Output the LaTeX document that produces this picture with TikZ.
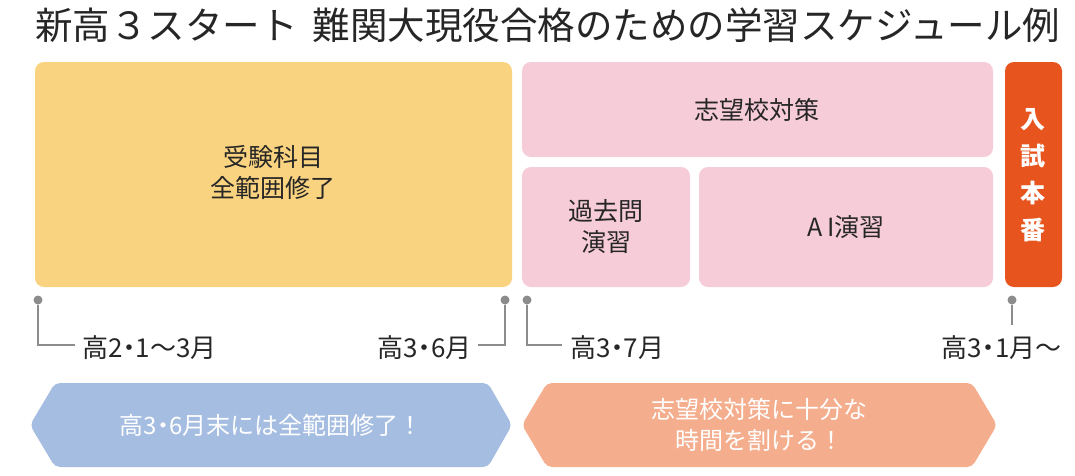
\documentclass[tikz,border=0pt]{standalone}
\usepackage{fontspec}
\setmainfont{Noto Sans CJK JP}
\begin{document}
\begin{tikzpicture}[x=1pt,y=-1pt,
  box/.style={rounded corners=9pt},
  lbl/.style={font=\fontsize{25}{31}\selectfont,text=black!85,align=center},
  tl/.style={draw=black!45,line width=1.2pt},
  dot/.style={circle,fill=black!45,inner sep=0pt,minimum size=9pt},
  tm/.style={font=\fontsize{26}{28}\selectfont,text=black!85,inner sep=0pt},
  hex/.style={rounded corners=5pt}]
\useasboundingbox (0,0) rectangle (1075,475);
\definecolor{yel}{HTML}{F9D380}
\definecolor{pnk}{HTML}{F6CCD9}
\definecolor{org}{HTML}{E8541E}
\definecolor{blu}{HTML}{A5BDE1}
\definecolor{sal}{HTML}{F4AE8E}
\node[anchor=west,inner sep=0pt,font=\fontsize{37.5}{42}\selectfont,text=black!85] (title) at (35,25) {新高３スタート\hspace{0.4em}難関大現役合格のための学習スケジュール例};
\fill[yel,box] (35,62) rectangle (512,287);
\node[lbl] (a) at (273,172) {受験科目\\全範囲修了};
\fill[pnk,box] (522,62) rectangle (993,157);
\node[lbl] (b) at (757,110) {志望校対策};
\fill[pnk,box] (522,167) rectangle (690,287);
\node[lbl] (c) at (606,227) {過去問\\演習};
\fill[pnk,box] (699,167) rectangle (993,287);
\node[lbl] (d) at (846,227) {A\,I演習};
\fill[org,box] (1005,62) rectangle (1062,287);
\node[lbl,text=white,font=\fontsize{25}{37}\selectfont\bfseries] (e) at (1033,175) {入\\試\\本\\番};
\node[dot] (p1) at (38,300) {};
\node[dot] (p2) at (505,300) {};
\node[dot] (p3) at (527,300) {};
\node[dot] (p4) at (1012,300) {};
\coordinate (c1) at (75,345);
\coordinate (c2) at (478,345);
\coordinate (c3) at (562,345);
\node[tm,anchor=west] (t1) at (82,348) {高2\kern-0.25em・\kern-0.25em1～3月};
\node[tm,anchor=east] (t2) at (472,348) {高3\kern-0.25em・\kern-0.25em6月};
\node[tm,anchor=west] (t3) at (570,348) {高3\kern-0.25em・\kern-0.25em7月};
\node[tm,anchor=east] (t4) at (1062,348) {高3\kern-0.25em・\kern-0.25em1月～};
\draw[tl] (p1) |- (c1);
\draw[tl] (p2) |- (c2);
\draw[tl] (p3) |- (c3);
\draw[tl] (p4) -- (1012,325);
\fill[blu,hex] (30,425) -- (55,383) -- (488,383) -- (512,425) -- (488,467) -- (55,467) -- cycle;
\node[lbl,text=white,font=\fontsize{24}{28}\selectfont] (f) at (271,425) {高3\kern-0.25em・\kern-0.25em6月末には全範囲修了！};
\fill[sal,hex] (522,425) -- (547,383) -- (972,383) -- (997,425) -- (972,467) -- (547,467) -- cycle;
\node[lbl,text=white,font=\fontsize{24}{31}\selectfont] (g) at (759,425) {志望校対策に十分な\\時間を割ける！};
\end{tikzpicture}
\end{document}
